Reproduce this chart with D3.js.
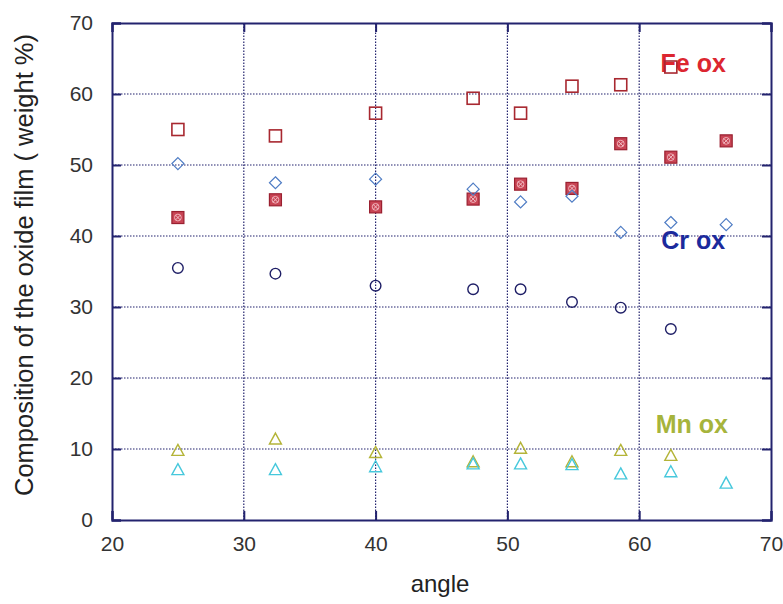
<!DOCTYPE html>
<html>
<head>
<meta charset="utf-8">
<script src="https://cdn.jsdelivr.net/npm/d3@7"></script>
<style>
  html, body { margin: 0; padding: 0; background: #fff; }
  svg { display: block; }
  text { font-family: "Liberation Sans", Arial, sans-serif; }
</style>
</head>
<body>
<svg id="chart" width="783" height="604"></svg>
<script>
// Oxide film composition (weight %) versus angle
const angles = [25, 32.4, 40, 47.4, 51, 54.9, 58.6, 62.4, 66.6];

const feOxOpen   = [55.0, 54.1, 57.3, 59.4, 57.3, 61.1, 61.3, 63.8, null];
const feOxCross  = [42.6, 45.1, 44.1, 45.2, 47.3, 46.7, 53.0, 51.1, 53.4];
const crOxDiam   = [50.2, 47.5, 48.0, 46.6, 44.8, 45.6, 40.5, 41.9, 41.6];
const crOxCircle = [35.5, 34.7, 33.0, 32.5, 32.5, 30.7, 29.9, 26.9, null];
const mnOxYellow = [9.8, 11.4, 9.5, 8.2, 10.1, 8.2, 9.8, 9.1, null];
const mnOxCyan   = [7.1, 7.1, 7.5, 7.9, 7.9, 7.8, 6.5, 6.8, 5.2];

const xTicks = [20, 30, 40, 50, 60, 70];
const yTicks = [0, 10, 20, 30, 40, 50, 60, 70];

const seriesLabels = [
  { text: "Fe ox", x: 64.1, y: 64.4, color: "#dc2630" },
  { text: "Cr ox", x: 64.1, y: 39.4, color: "#1c2a9c" },
  { text: "Mn ox", x: 64.0, y: 13.5, color: "#a6b43c" }
];

const svg = d3.select("#chart");
const margin = { left: 112, right: 12, top: 23, bottom: 84 };
const W = 783, H = 604;

const x = d3.scaleLinear().domain([20, 70]).range([margin.left, W - margin.right]);
const y = d3.scaleLinear().domain([0, 70]).range([H - margin.bottom, margin.top]);

const frame = "#23236e";

// dotted grid
const grid = svg.append("g");
grid.selectAll(".gx").data(xTicks.slice(1, -1)).join("line")
  .attr("x1", d => x(d)).attr("x2", d => x(d))
  .attr("y1", y(0)).attr("y2", y(70))
  .attr("stroke", frame).attr("stroke-width", 1.2).attr("stroke-dasharray", "1.5,1.5");
grid.selectAll(".gy").data(yTicks.slice(1, -1)).join("line")
  .attr("y1", d => y(d)).attr("y2", d => y(d))
  .attr("x1", x(20)).attr("x2", x(70))
  .attr("stroke", frame).attr("stroke-width", 1.2).attr("stroke-dasharray", "1.5,1.5");

// axes with inward ticks
const tickLen = 9;
const axB = svg.append("g").attr("transform", `translate(0,${y(0)})`)
  .call(d3.axisBottom(x).tickValues(xTicks).tickSize(-tickLen).tickPadding(16));
const axT = svg.append("g").attr("transform", `translate(0,${y(70)})`)
  .call(d3.axisTop(x).tickValues(xTicks).tickSize(-tickLen).tickFormat(""));
const axL = svg.append("g").attr("transform", `translate(${x(20)},0)`)
  .call(d3.axisLeft(y).tickValues(yTicks).tickSize(-tickLen).tickPadding(19));
const axR = svg.append("g").attr("transform", `translate(${x(70)},0)`)
  .call(d3.axisRight(y).tickValues(yTicks).tickSize(-tickLen).tickFormat(""));

[axB, axT, axL, axR].forEach(a => {
  a.select(".domain").attr("stroke", frame).attr("stroke-width", 2);
  a.selectAll(".tick line").attr("stroke", frame).attr("stroke-width", 2);
  a.selectAll(".tick text").attr("fill", "#333").attr("font-size", 21)
    .attr("font-family", "Liberation Sans, Arial, sans-serif");
});

// axis titles
svg.append("text").attr("x", 440).attr("y", 592).attr("text-anchor", "middle")
  .attr("font-size", 24).attr("fill", "#222").text("angle");
svg.append("text")
  .attr("transform", "translate(33,265) rotate(-90)")
  .attr("text-anchor", "middle").attr("font-size", 25.5).attr("fill", "#222")
  .text("Composition of the oxide film ( weight %)");

// series labels (drawn beneath the markers)
svg.selectAll(".lab").data(seriesLabels).join("text")
  .attr("x", d => x(d.x)).attr("y", d => y(d.y)).attr("dy", "0.35em")
  .attr("text-anchor", "middle").attr("font-size", 25).attr("font-weight", "bold")
  .attr("fill", d => d.color).text(d => d.text);

const pts = vals => angles.map((a, i) => ({ a, v: vals[i] })).filter(d => d.v != null);
const marks = svg.append("g");

// open squares
marks.selectAll(".sq").data(pts(feOxOpen)).join("rect")
  .attr("x", d => x(d.a) - 6).attr("y", d => y(d.v) - 6)
  .attr("width", 12).attr("height", 12)
  .attr("fill", "none").attr("stroke", "#a82830").attr("stroke-width", 1.6);

// crossed filled squares
const cs = marks.selectAll(".cs").data(pts(feOxCross)).join("g")
  .attr("transform", d => `translate(${x(d.a)},${y(d.v)})`);
cs.append("rect").attr("x", -6).attr("y", -6).attr("width", 12).attr("height", 12)
  .attr("fill", "#c84454").attr("stroke", "#9a2030").attr("stroke-width", 1.2);
cs.append("circle").attr("r", 3.4).attr("fill", "none").attr("stroke", "#f0b0b8").attr("stroke-width", 1);
cs.append("path").attr("d", "M-2.4,-2.4L2.4,2.4M-2.4,2.4L2.4,-2.4")
  .attr("stroke", "#f4c0c8").attr("stroke-width", 1);

// diamonds
marks.selectAll(".dm").data(pts(crOxDiam)).join("path")
  .attr("d", d => { const cx = x(d.a), cy = y(d.v); return `M${cx},${cy - 6}L${cx + 6},${cy}L${cx},${cy + 6}L${cx - 6},${cy}Z`; })
  .attr("fill", "none").attr("stroke", "#4e7cc4").attr("stroke-width", 1.2);

// circles
marks.selectAll(".ci").data(pts(crOxCircle)).join("circle")
  .attr("cx", d => x(d.a)).attr("cy", d => y(d.v)).attr("r", 5.3)
  .attr("fill", "none").attr("stroke", "#1e1e66").attr("stroke-width", 1.4);

// triangles
const tri = (cx, cy) => `M${cx},${cy - 6}L${cx + 6},${cy + 5}L${cx - 6},${cy + 5}Z`;
marks.selectAll(".ty").data(pts(mnOxYellow)).join("path")
  .attr("d", d => tri(x(d.a), y(d.v)))
  .attr("fill", "none").attr("stroke", "#b4b438").attr("stroke-width", 1.4);
marks.selectAll(".tc").data(pts(mnOxCyan)).join("path")
  .attr("d", d => tri(x(d.a), y(d.v)))
  .attr("fill", "none").attr("stroke", "#46c8dc").attr("stroke-width", 1.4);
</script>
</body>
</html>
